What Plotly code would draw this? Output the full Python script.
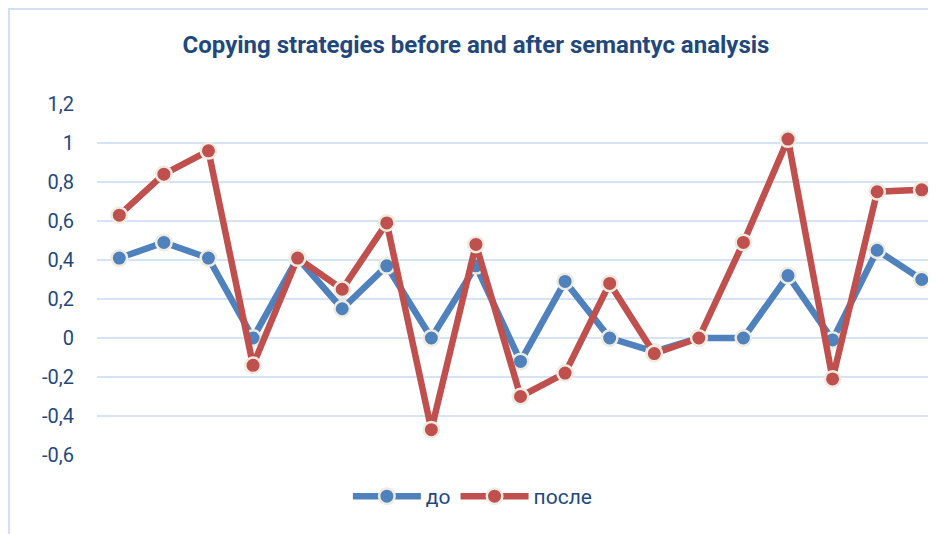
import plotly.graph_objects as go

categories = list(range(1, 20))
do_values = [0.41, 0.49, 0.41, 0.0, 0.41, 0.15, 0.37, 0.0, 0.37, -0.12,
             0.29, 0.0, -0.07, 0.0, 0.0, 0.32, -0.01, 0.45, 0.30]
posle_values = [0.63, 0.84, 0.96, -0.14, 0.41, 0.25, 0.59, -0.47, 0.48, -0.30,
                -0.18, 0.28, -0.08, 0.0, 0.49, 1.02, -0.21, 0.75, 0.76]
tick_values = [-0.6, -0.4, -0.2, 0, 0.2, 0.4, 0.6, 0.8, 1, 1.2]
tick_labels = ["-0,6", "-0,4", "-0,2", "0", "0,2", "0,4", "0,6", "0,8", "1", "1,2"]
series_names = ["до", "после"]

# page has an 8px body offset
W, H = 928, 526
L, R, T, B = 89, 0, 96, 79
FONT = "Roboto, sans-serif"
TXT = "#1F497D"

fig = go.Figure()
for name, vals, col in [(series_names[0], do_values, "#4F81BD"),
                        (series_names[1], posle_values, "#C0504D")]:
    fig.add_trace(go.Scatter(
        x=categories, y=vals, name=name, mode="lines+markers",
        line=dict(color=col, width=6.5),
        marker=dict(size=15.5, color=col, line=dict(color="#EEECE1", width=2.5)),
        cliponaxis=False,
    ))

pw = W - L - R
ph = H - T - B
fig.add_shape(type="rect", xref="paper", yref="paper",
              x0=(1 - L) / pw, x1=(W + 10 - L) / pw,
              y0=-(B + 10) / ph, y1=1 + (T - 1) / ph,
              line=dict(color="#D3E0F1", width=2), fillcolor="rgba(0,0,0,0)", layer="below")

fig.update_layout(
    width=W, height=H,
    margin=dict(l=L, r=R, t=T, b=B),
    paper_bgcolor="white", plot_bgcolor="white",
    font=dict(family=FONT, color=TXT, size=20),
    title=dict(text="<b>Copying strategies before and after semantyc analysis</b>",
               x=(476 - 8) / W, xref="container", y=1 - (45 - 8) / H, yref="container",
               xanchor="center", yanchor="middle",
               font=dict(family=FONT, size=24, color=TXT)),
    showlegend=True,
    legend=dict(orientation="h", x=0.448, xanchor="center", y=-0.06, yanchor="top",
                itemwidth=68, font=dict(family=FONT, size=21, color=TXT)),
    xaxis=dict(range=[0.5, 19.32], showgrid=False, showticklabels=False,
               zeroline=False, showline=False, fixedrange=True),
    yaxis=dict(range=[-0.6, 1.2], tickvals=tick_values, ticktext=tick_labels,
               showgrid=True, gridcolor="#D6E3F4", gridwidth=1.5,
               zeroline=False, showline=False, ticklabelstandoff=22,
               tickfont=dict(family=FONT, size=20, color=TXT)),
)

fig.write_html("out.html")
